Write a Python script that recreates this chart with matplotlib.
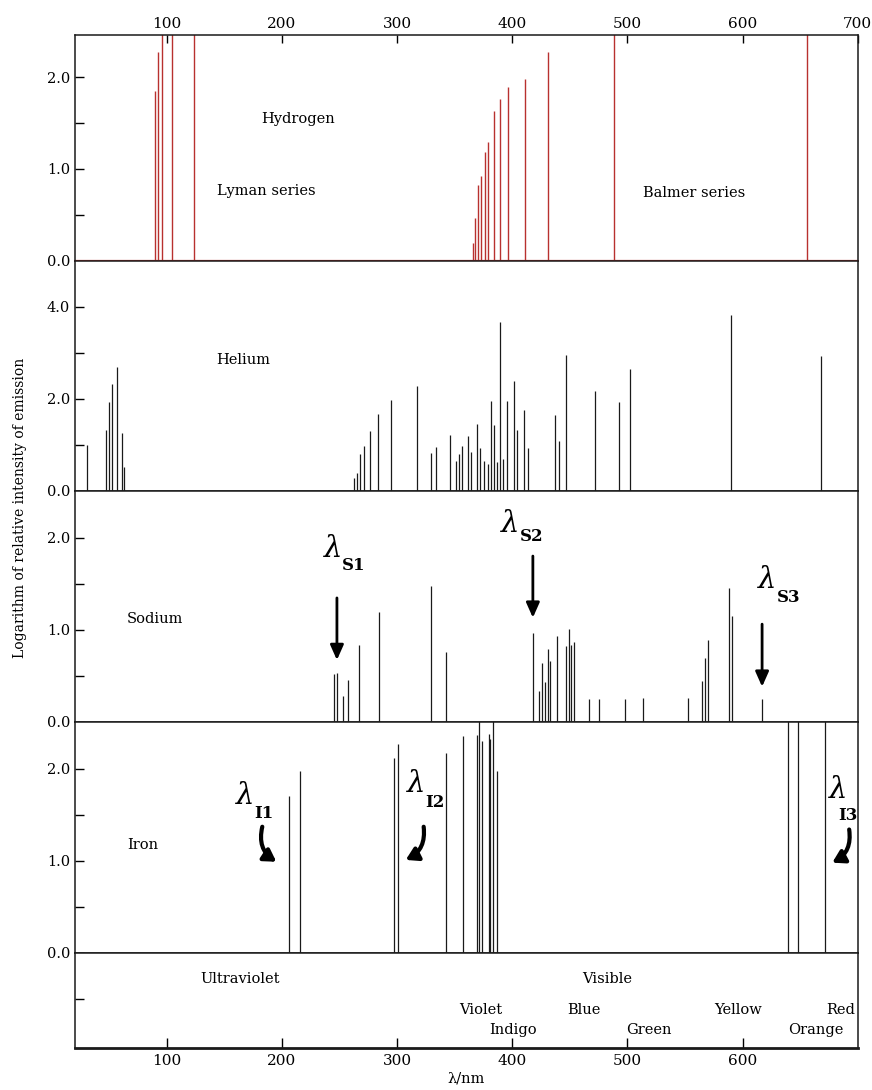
import matplotlib
matplotlib.use("Agg")
import matplotlib.pyplot as plt
from matplotlib.patches import FancyArrowPatch

plt.rcParams['font.family'] = ['DejaVu Serif']
plt.rcParams['font.size'] = 10

# wavelength (nm) and log relative intensity
h_wl = [90.1, 92.4, 96.0, 105.0, 123.4,
        365.8, 367.8, 370.5, 373.3, 376.8, 379.1, 384.0, 389.9, 396.6, 411.0, 431.2,
        488.3, 656.0]
h_val = [1.85, 2.28, 2.6, 2.6, 2.6,
         0.19, 0.47, 0.83, 0.92, 1.18, 1.29, 1.63, 1.76, 1.89, 1.98, 2.28,
         2.6, 2.6]

he_wl = [31.0, 47.0, 50.1, 52.4, 57.3, 60.9, 63.1,
         262.3, 265.0, 267.7, 271.7, 276.7, 283.4, 294.6, 317.5, 329.6, 333.7,
         345.8, 351.6, 354.3, 356.6, 361.5, 364.6, 369.6, 371.8, 375.9, 378.7,
         381.3, 384.5, 387.1, 389.9, 392.1, 395.8, 401.6, 403.8, 410.1, 413.7,
         437.6, 441.1, 446.5, 472.1, 492.4, 502.7, 589.9, 668.5]
he_val = [0.99, 1.32, 1.93, 2.31, 2.68, 1.26, 0.51,
          0.28, 0.39, 0.80, 0.97, 1.29, 1.66, 1.97, 2.28, 0.82, 0.95,
          1.21, 0.64, 0.79, 0.97, 1.19, 0.84, 1.44, 0.93, 0.64, 0.57,
          1.95, 1.43, 0.62, 3.66, 0.68, 1.95, 2.39, 1.33, 1.75, 0.93,
          1.64, 1.08, 2.95, 2.17, 1.93, 2.64, 3.83, 2.92]

na_wl = [245.6, 248.3, 252.8, 257.3, 267.2, 284.3, 329.2, 342.2,
         418.2, 423.1, 425.8, 428.5, 430.8, 433.0, 439.3, 446.5, 449.2, 451.4, 454.1,
         466.3, 475.3, 497.8, 513.9, 553.0, 565.2, 567.4, 570.1, 588.1, 591.2, 616.8]
na_val = [0.52, 0.53, 0.28, 0.45, 0.83, 1.19, 1.47, 0.76,
          0.96, 0.33, 0.64, 0.43, 0.79, 0.66, 0.93, 0.82, 1.01, 0.83, 0.87,
          0.25, 0.25, 0.25, 0.26, 0.26, 0.44, 0.69, 0.89, 1.45, 1.15, 0.25]

fe_wl = [206.5, 215.5, 297.3, 300.9, 342.7, 357.1, 369.2, 371.5, 374.2,
         380.0, 381.2, 383.2, 387.2, 639.5, 648.2, 671.6]
fe_val = [1.70, 1.98, 2.12, 2.27, 2.17, 2.35, 2.37, 2.6, 2.30,
          2.38, 2.32, 2.6, 1.98, 2.6, 2.6, 2.6]

x_ticks = [100, 200, 300, 400, 500, 600, 700]
region_labels = ["Ultraviolet", "Visible"]
region_x = [163.6, 482.7]
colour_labels = ["Violet", "Blue", "Yellow", "Red", "Indigo", "Green", "Orange"]
colour_x = [373.1, 461.9, 595.9, 684.8, 401.2, 518.3, 664.0]
colour_y = [0.40, 0.40, 0.40, 0.40, 0.19, 0.19, 0.19]

RED = "#b8312f"
INK = "#1a1a1a"
XLIM = (20.5, 700)

fig = plt.figure(figsize=(8.72, 10.9), dpi=100)
L, W = 0.086, 0.8976
ax_h = fig.add_axes([L, 0.7608, W, 0.2071])
ax_he = fig.add_axes([L, 0.5498, W, 0.2110])
ax_na = fig.add_axes([L, 0.3379, W, 0.2119])
ax_fe = fig.add_axes([L, 0.1257, W, 0.2122])
ax_b = fig.add_axes([L, 0.0385, W, 0.0872])


def style(ax, ymax, yt, ylab):
    ax.set_xlim(*XLIM)
    ax.set_ylim(0, ymax)
    ax.set_yticks(yt)
    ax.set_yticklabels(ylab)
    ax.tick_params(axis='y', direction='in', length=6.5, width=1.0, labelsize=10.5)
    ax.set_xticks([])
    for s in ax.spines.values():
        s.set_linewidth(1.1)
        s.set_color(INK)


style(ax_h, 2.46, [0, 0.5, 1, 1.5, 2], ['0.0', '', '1.0', '', '2.0'])
style(ax_he, 5.0, [0, 1, 2, 3, 4], ['0.0', '', '2.0', '', '4.0'])
style(ax_na, 2.51, [0, 0.5, 1, 1.5, 2], ['0.0', '', '1.0', '', '2.0'])
style(ax_fe, 2.51, [0, 0.5, 1, 1.5, 2], ['0.0', '', '1.0', '', '2.0'])
style(ax_b, 1.0, [0.52], [''])

# top axis
ax_h.xaxis.tick_top()
ax_h.set_xticks(x_ticks)
ax_h.tick_params(axis='x', direction='in', length=6, width=1.0, labelsize=11, pad=3)
ax_h.spines['bottom'].set_color(RED)

# bottom axis
ax_b.set_xticks(x_ticks[:-1])
ax_b.tick_params(axis='x', direction='in', length=7, width=1.0, labelsize=11, pad=4)
ax_b.spines['bottom'].set_linewidth(2.0)
ax_b.set_xlabel("λ/nm", fontsize=10.5, labelpad=3)

# spectra
ax_h.vlines(h_wl, 0, h_val, color=RED, lw=1.0)
ax_h.axhline(0, color=RED, lw=1.6)
ax_he.vlines(he_wl, 0, he_val, color=INK, lw=0.9)
ax_na.vlines(na_wl, 0, na_val, color=INK, lw=0.9)
ax_fe.vlines(fe_wl, 0, fe_val, color=INK, lw=0.9)

fs = 10.5
ax_h.text(213.8, 1.54, "Hydrogen", ha='center', va='center', fontsize=fs)
ax_h.text(187, 0.76, "Lyman series", ha='center', va='center', fontsize=fs)
ax_h.text(558, 0.74, "Balmer series", ha='center', va='center', fontsize=fs)
ax_he.text(166.9, 2.84, "Helium", ha='center', va='center', fontsize=fs)
ax_na.text(89.9, 1.12, "Sodium", ha='center', va='center', fontsize=fs)
ax_fe.text(79.5, 1.17, "Iron", ha='center', va='center', fontsize=fs)

for lab, x in zip(region_labels, region_x):
    ax_b.text(x, 0.726, lab, ha='center', va='center', fontsize=fs)
for lab, x, y in zip(colour_labels, colour_x, colour_y):
    ax_b.text(x, y, lab, ha='center', va='center', fontsize=fs)

fig.text(20 / 872, 1 - 508 / 1090, "Logarithm of relative intensity of emission",
         rotation=90, ha='center', va='center', fontsize=10)


def lam(ax, x, y, sub, sx, sy):
    ax.text(x, y, "λ", ha='right', va='center', fontsize=21, style='italic')
    ax.text(sx, sy, sub, ha='left', va='center', fontsize=12, fontweight='bold')


def down_arrow(ax, x, y0, y1):
    ax.annotate("", xy=(x, y1), xytext=(x, y0),
                arrowprops=dict(arrowstyle="-|>,head_length=0.9,head_width=0.4",
                                lw=2.0, color='black', shrinkA=0, shrinkB=0))


lam(ax_na, 252.5, 1.88, "S1", 252.5, 1.70)
down_arrow(ax_na, 247.9, 1.345, 0.67)
lam(ax_na, 406.5, 2.15, "S2", 406.5, 2.01)
down_arrow(ax_na, 418.0, 1.80, 1.13)
lam(ax_na, 629.5, 1.54, "S3", 629.5, 1.345)
down_arrow(ax_na, 617.0, 1.06, 0.38)


def curl(ax, p0, p1, rad):
    a = FancyArrowPatch(p0, p1, connectionstyle=f"arc3,rad={rad}",
                        arrowstyle="-|>,head_length=0.5,head_width=0.3",
                        mutation_scale=14, lw=3.0, color='black',
                        shrinkA=0, shrinkB=0)
    ax.add_patch(a)


lam(ax_fe, 176.0, 1.70, "I1", 176.0, 1.51)
curl(ax_fe, (183.1, 1.37), (195.3, 0.99), 0.35)
lam(ax_fe, 324.5, 1.83, "I2", 324.5, 1.63)
curl(ax_fe, (323.2, 1.37), (307.6, 1.01), -0.35)
lam(ax_fe, 691.0, 1.77, "I3", 683.5, 1.49)
curl(ax_fe, (692.6, 1.34), (677.9, 0.98), -0.35)

fig.savefig("out.png", dpi=100)
